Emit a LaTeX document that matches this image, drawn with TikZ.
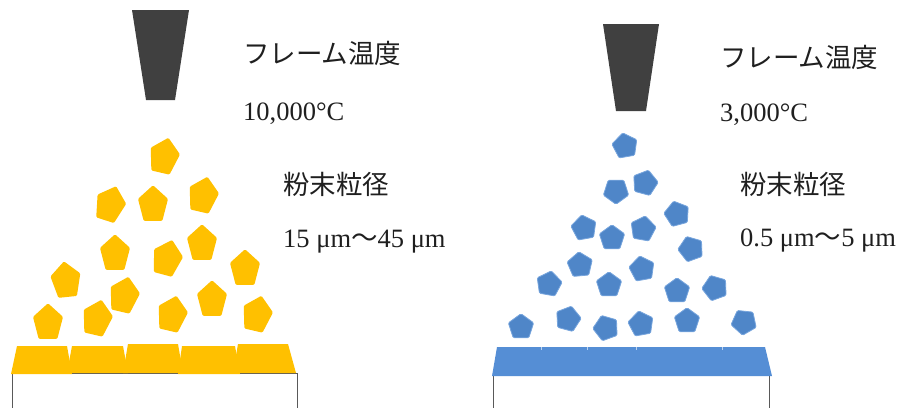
\documentclass[tikz,border=0pt]{standalone}
\usepackage{fontspec}
\setmainfont{Liberation Serif}
\newfontfamily\jpfont{Noto Sans CJK JP}
\definecolor{powderY}{HTML}{FFC000}
\definecolor{powderB}{HTML}{4F86C8}
\definecolor{coatB}{HTML}{558ED5}
\definecolor{nozzleC}{HTML}{404040}
% pentagon particle: style, x, y, rotation, radius, vertical stretch
\newcommand\drawpent[6]{%
  \fill[#1,shift={(#2,#3)},rotate=#4,yscale=#6,rounded corners=1.2pt]
    (-90:#5) -- (-18:#5) -- (54:#5) -- (126:#5) -- (198:#5) -- cycle;}
\begin{document}
\begin{tikzpicture}[x=1pt,y=-1pt,
  txt/.style={anchor=base west, inner sep=0pt, text=black!88,
    font=\fontsize{26.5}{30}\selectfont},
  nozzle/.style={fill=nozzleC},
  ypart/.style={fill=powderY},
  bpart/.style={fill=powderB, draw=coatB!80!white, line width=0.8pt},
  ycoat/.style={fill=powderY},
  bcoat/.style={fill=coatB},
  substrate/.style={draw=black!65, line width=0.9pt, fill=white}]
\useasboundingbox (0,0) rectangle (901,407);

% ---------- left: high flame temperature, coarse powder ----------
\fill[nozzle] (132,10) -- (189,10) -- (175,100) -- (146,100) -- cycle;
\node[txt] (t1) at (243,63) {\jpfont フレーム温度};
\node[txt] (v1) at (243,120) {10,000°C};
\node[txt] (s1) at (283,194) {\jpfont 粉末粒径};
\node[txt] (r1) at (283,247) {15 μm{\jpfont ～}45 μm};

\foreach \x/\y/\r in {164/157/-13, 110/205/-18, 153/205/0, 203/196/-13,
    115/254/0, 167/259/-15, 202/244/0, 245/269/0, 66/281/6, 124/296/-13,
    48/323/0, 97/319/-13, 172/315/-13, 212/300/0, 257/315/-13}
  {\drawpent{ypart}{\x}{\y}{\r}{15.8}{1.25}}

\draw[substrate] (12,373) rectangle (297,412);
\fill[ycoat] (11,374) -- (17,346) -- (67,346) -- (72,374) -- cycle;
\fill[ycoat] (67,373) -- (72,346) -- (123,346) -- (128,373) -- cycle;
\fill[ycoat] (123,373) -- (128,344) -- (178,344) -- (183,373) -- cycle;
\fill[ycoat] (178,374) -- (182,346) -- (235,346) -- (240,374) -- cycle;
\fill[ycoat] (233,373) -- (238,344) -- (288,344) -- (296,373) -- cycle;

% ---------- right: low flame temperature, fine powder ----------
\fill[nozzle] (603,24) -- (659,24) -- (646,111) -- (616,111) -- cycle;
\node[txt] (t2) at (720,67) {\jpfont フレーム温度};
\node[txt] (v2) at (720,121) {3,000°C};
\node[txt] (s2) at (740,194) {\jpfont 粉末粒径};
\node[txt] (r2) at (740,246) {0.5 μm{\jpfont ～}5 μm};

\foreach \x/\y/\r in {625/146/10, 616/191/36, 645/183/-15, 584/228/10,
    612/238/0, 643/229/-10, 677/214/15, 691/249/20, 580/265/5, 549/284/-10,
    609/285/0, 642/269/10, 677/291/0, 715/288/20, 521/327/0, 568/319/-15,
    606/328/20, 641/324/10, 687/321/0, 744/322/30}
  {\drawpent{bpart}{\x}{\y}{\r}{13.3}{1}}

\draw[substrate] (493,375) rectangle (769,412);
\fill[bcoat] (492,376) -- (497,347) -- (765,347) -- (772,376) -- cycle;
\foreach \x in {541,587,636,722}
  \draw[white!60!coatB, line width=0.6pt] (\x,347) -- (\x,350);
\end{tikzpicture}
\end{document}
